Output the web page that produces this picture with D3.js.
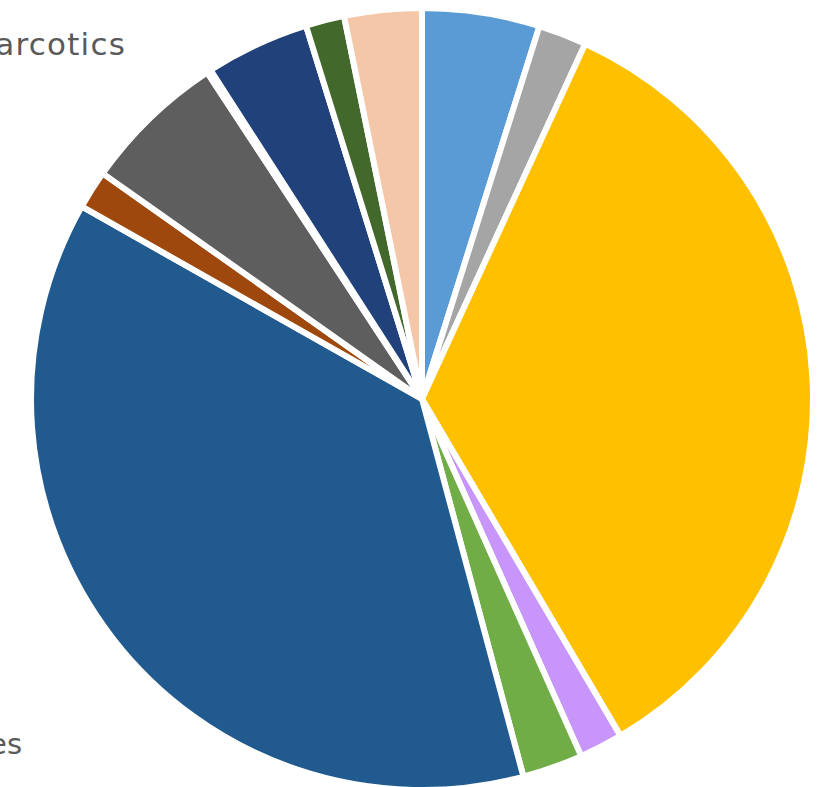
<!DOCTYPE html>
<html>
<head>
<meta charset="utf-8">
<script src="https://cdn.jsdelivr.net/npm/d3@7"></script>
<style>
  body { margin: 0; background: #fff; }
  svg { display: block; }
  .slice-label { font-family: "DejaVu Sans", sans-serif; fill: #5a5a5a; }
</style>
</head>
<body>
<div id="chart"></div>
<script>
// Define SVG area dimensions
var svgWidth = 830;
var svgHeight = 787;

// Slice categories, shares (%) and colours, clockwise from 12 o'clock
var categories = ["Weapons", "Fraud", "Theft", "Vandalism", "Burglary", "Property Crimes",
  "Trespass", "Assault", "Arson", "Narcotics", "Robbery", "Other"];
var shares = [4.86, 2.0, 34.7, 1.8, 2.5, 37.4, 1.6, 5.95, 0.17, 4.3, 1.6, 3.2];
var colors = ["#5B9BD5", "#A5A5A5", "#FFC000", "#C896FA", "#70AD47", "#215A8E",
  "#9E480E", "#5E5E5E", "#997300", "#21417A", "#43682B", "#F5C7A9"];

// Outside labels (partly cut off by the frame in the reference)
var labelNames = ["Narcotics", "Property Crimes"];

var svg = d3.select("#chart")
  .append("svg")
  .attr("width", svgWidth)
  .attr("height", svgHeight);

var cx = 422;
var cy = 399;
var radius = 391;

var pieData = categories.map(function(c, i) {
  return { name: c, value: shares[i], color: colors[i] };
});

var pie = d3.pie()
  .sort(null)
  .value(d => d.value);

var arc = d3.arc()
  .innerRadius(0)
  .outerRadius(radius);

var chartGroup = svg.append("g")
  .attr("transform", `translate(${cx}, ${cy})`);

chartGroup.selectAll("path")
  .data(pie(pieData))
  .enter()
  .append("path")
  .attr("d", arc)
  .attr("fill", d => d.data.color)
  .attr("stroke", "#fff")
  .attr("stroke-width", 6)
  .attr("stroke-linejoin", "round");

// labels
svg.append("text")
  .attr("class", "slice-label")
  .attr("x", 126)
  .attr("y", 55)
  .attr("text-anchor", "end")
  .style("font-size", "31px")
  .style("letter-spacing", "1.2px")
  .text(labelNames[0]);

svg.append("text")
  .attr("class", "slice-label")
  .attr("x", 22)
  .attr("y", 754)
  .attr("text-anchor", "end")
  .style("font-size", "29px")
  .text(labelNames[1]);
</script>
</body>
</html>
